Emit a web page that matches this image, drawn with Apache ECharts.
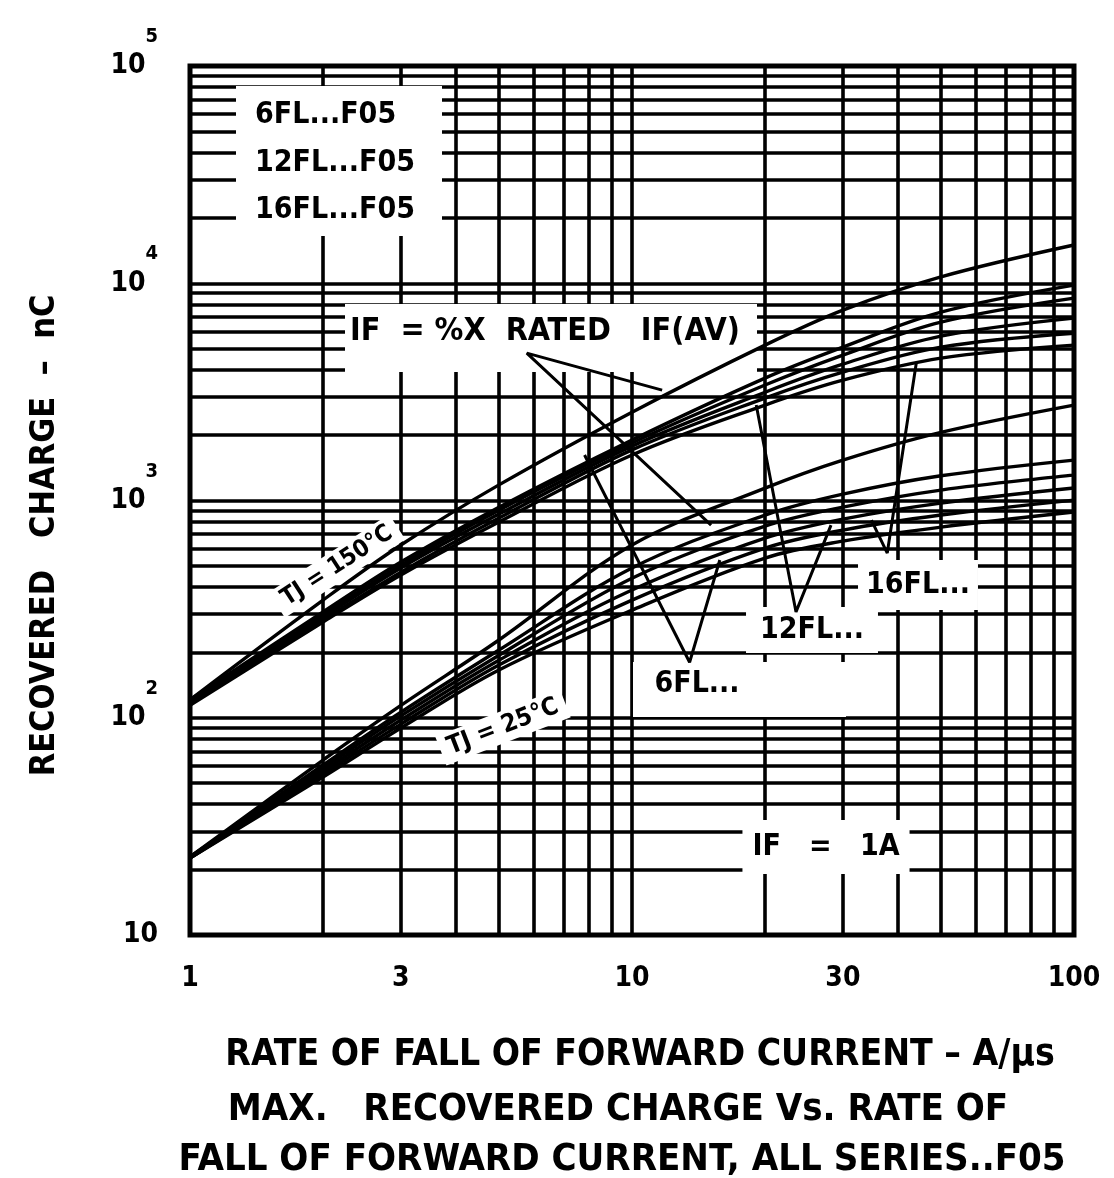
<!DOCTYPE html>
<html>
<head>
<meta charset="utf-8">
<script src="https://cdn.jsdelivr.net/npm/echarts@6/dist/echarts.min.js"></script>
<style>html,body{margin:0;padding:0;background:#fff;}#c{width:1114px;height:1178px;}</style>
</head>
<body>
<div id="c"></div>
<script>
// ---- data ----
const rateX = [1, 2, 3, 5, 10, 20, 30, 50, 100];           // A/us
// Tj = 150 C group (nC)
const tj150_a = [121, 348, 624, 1180, 2550, 5190, 7520, 10700, 15000];
const tj150_b = [121, 307, 521, 932, 1900, 3660, 5080, 7360, 9800];
const tj150_c = [118, 297, 504, 903, 1840, 3400, 4670, 6620, 8540];
const tj150_d = [118, 291, 489, 866, 1780, 3150, 4240, 5710, 6910];
const tj150_e = [116, 282, 468, 830, 1710, 2960, 3900, 5080, 5890];
const tj150_f = [114, 276, 454, 796, 1620, 2750, 3580, 4520, 5190];
// Tj = 25 C group (nC)
const tj25_g = [22.9, 63.9, 114, 228, 624, 1140, 1535, 2060, 2750];
const tj25_h = [22.9, 60.6, 106, 205, 489, 857, 1070, 1300, 1535];
const tj25_i = [22.9, 58.7, 102, 194, 439, 762, 932, 1117, 1309];
const tj25_j = [22.6, 56.8, 97.6, 184, 387, 671, 821, 973, 1141];
const tj25_k = [22.6, 55.1, 93.5, 175, 348, 604, 731, 857, 1004];
const tj25_l = [22.6, 53.4, 89.7, 166, 313, 543, 650, 754, 885];

// leader lines of the annotations, [x, y] in data units
const leaderIfRated = [[11.7, 3220], [5.78, 4770], [15.1, 770]];
const leader6FL = [[7.81, 1620], [13.5, 180], [15.8, 532]];
const leader12FL = [[19.1, 2750], [23.5, 307], [28.2, 770]];
const leader16FL = [[44.0, 4330], [37.8, 573], [34.8, 813]];

// axis tick labels and grid values
const xLabelValues = [1, 3, 10, 30, 100];
const xGridValues = [2, 3, 4, 5, 6, 7, 8, 9, 10, 20, 30, 40, 50, 60, 70, 80, 90];
const yGridValues = [20, 30, 40, 50, 60, 70, 80, 90, 100,
  200, 300, 400, 500, 600, 700, 800, 900, 1000,
  2000, 3000, 4000, 5000, 6000, 7000, 8000, 9000, 10000,
  20000, 30000, 40000, 50000, 60000, 70000, 80000, 90000];

const FONT = "'Liberation Sans Narrow', 'DejaVu Sans Condensed', 'Arial Narrow', 'Liberation Sans', sans-serif";

function pairs(ys) { return rateX.map((x, i) => [x, ys[i]]); }

const curves = [tj150_a, tj150_b, tj150_c, tj150_d, tj150_e, tj150_f,
                tj25_g, tj25_h, tj25_i, tj25_j, tj25_k, tj25_l];
const curveNames = ['150C-a','150C-b','150C-c','150C-d','150C-e','150C-f',
                    '25C-g','25C-h','25C-i','25C-j','25C-k','25C-l'];

const series = [];
series.push({
  type: 'line', name: 'grid', data: [], z: 1, silent: true,
  markLine: {
    z: 1, silent: true, symbol: ['none', 'none'], animation: false,
    label: { show: false },
    lineStyle: { color: '#000', width: 3.6, type: 'solid' },
    emphasis: { disabled: true },
    data: xGridValues.map(v => ({ xAxis: v })).concat(yGridValues.map(v => ({ yAxis: v })))
  }
});
curves.forEach((c, i) => series.push({
  type: 'line', name: curveNames[i], data: pairs(c), smooth: 0.35,
  showSymbol: false, symbol: 'none', z: 6, silent: true,
  lineStyle: { color: '#000', width: 3.4 }
}));
[leaderIfRated, leader6FL, leader12FL, leader16FL].forEach(l => series.push({
  type: 'line', data: l, showSymbol: false, symbol: 'none', z: 6, silent: true,
  lineStyle: { color: '#000', width: 3 }
}));

function txt(x, y, text, size, opts) {
  return Object.assign({
    type: 'text', x: x, y: y, z: 4,
    style: Object.assign({
      text: text, fontFamily: FONT, fontWeight: 'bold', fontSize: size, fill: '#000',
      textAlign: 'center', textVerticalAlign: 'middle'
    }, (opts && opts.style) || {})
  }, (opts && opts.el) || {});
}
function box(x, y, w, h) {
  return { type: 'rect', z: 3, shape: { x: x, y: y, width: w, height: h }, style: { fill: '#fff' } };
}

const option = {
  animation: false,
  backgroundColor: '#fff',
  grid: { left: 190, right: 40, top: 66, bottom: 243, show: true, borderColor: '#000', borderWidth: 5, backgroundColor: 'transparent' },
  xAxis: {
    type: 'log', logBase: 10, min: 1, max: 100,
    name: 'RATE OF FALL OF FORWARD CURRENT \u2013 A/\u03bcs',
    nameLocation: 'middle', nameGap: 102,
    nameTextStyle: { fontFamily: FONT, fontWeight: 'bold', fontSize: 37, color: '#000', padding: [0, 0, 0, 16] },
    axisLine: { show: false }, axisTick: { show: false },
    splitLine: { show: false }, minorSplitLine: { show: false },
    axisLabel: { customValues: xLabelValues, margin: 30, fontFamily: FONT, fontWeight: 'bold', fontSize: 28, color: '#000',
      showMinLabel: true, showMaxLabel: true }
  },
  yAxis: {
    type: 'log', logBase: 10, min: 10, max: 100000,
    name: 'RECOVERED   CHARGE  \u2013  nC',
    nameLocation: 'middle', nameGap: 128, nameRotate: 90,
    nameTextStyle: { fontFamily: FONT, fontWeight: 'bold', fontSize: 34, color: '#000', padding: [0, 70, 0, 0] },
    axisLine: { show: false }, axisTick: { show: false },
    splitLine: { show: false },
    axisLabel: {
      margin: 32, color: '#000',
      formatter: function (v) {
        const e = Math.round(Math.log10(v));
        return e === 1 ? '{b|10}' : '{b|10}{e|' + e + '}';
      },
      rich: {
        b: { fontFamily: FONT, fontWeight: 'bold', fontSize: 28, color: '#000', verticalAlign: 'middle' },
        e: { fontFamily: FONT, fontWeight: 'bold', fontSize: 20, color: '#000', verticalAlign: 'middle', padding: [0, 0, 58, 0] }
      }
    }
  },
  graphic: [
    // legend block
    box(236, 86, 206, 150),
    txt(255, 115, '6FL...F05', 30, { style: { textAlign: 'left' } }),
    txt(255, 163, '12FL...F05', 30, { style: { textAlign: 'left' } }),
    txt(255, 210, '16FL...F05', 30, { style: { textAlign: 'left' } }),
    // IF = %X rated
    box(345, 304, 412, 68),
    txt(350, 332, 'IF  = %X  RATED   IF(AV)', 32, { style: { textAlign: 'left' } }),
    // Tj labels
    txt(337, 566, 'TJ = 150\u00b0C', 24, { el: { rotation: 0.576 }, style: { backgroundColor: '#fff', padding: [3, 8] } }),
    txt(503, 727, 'TJ = 25\u00b0C', 25, { el: { rotation: 0.37 }, style: { backgroundColor: '#fff', padding: [3, 8] } }),
    // series labels
    txt(918, 585, '16FL...', 30, { style: { backgroundColor: '#fff', padding: [10, 8] } }),
    txt(812, 630, '12FL...', 30, { style: { backgroundColor: '#fff', padding: [8, 14] } }),
    box(633, 662, 213, 55),
    txt(697, 684, '6FL...', 30),
    txt(826, 847, 'IF   =   1A', 30, { style: { backgroundColor: '#fff', padding: [12, 10] } }),
    // caption
    txt(618, 1110, 'MAX.   RECOVERED CHARGE Vs. RATE OF', 38),
    txt(622, 1160, 'FALL OF FORWARD CURRENT, ALL SERIES..F05', 38)
  ],
  series: series
};

const chart = echarts.init(document.getElementById('c'), null, { renderer: 'canvas' });
chart.setOption(option);
</script>
</body>
</html>
